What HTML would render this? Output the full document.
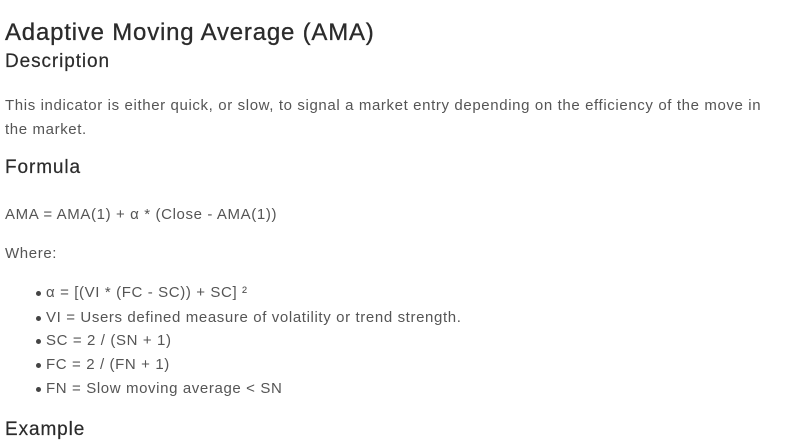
<!DOCTYPE html>
<html><head><meta charset="utf-8"><style>
body{margin:0;width:793px;height:423px;overflow:hidden;background:#fff;font-family:"Liberation Sans",sans-serif;position:relative}
.a{position:absolute;left:5px;white-space:nowrap}
.h1{font-size:24px;line-height:30px;color:#2b2b2b;letter-spacing:0.8px;-webkit-text-stroke:0.3px #2b2b2b}
.h2{font-size:19px;line-height:24px;color:#2b2b2b;letter-spacing:0.9px;-webkit-text-stroke:0.2px #2b2b2b}
.p{font-size:15px;line-height:24px;color:#555;letter-spacing:0.62px}
.li{left:46px}
.dot{position:absolute;left:36px;width:5px;height:5px;border-radius:50%;background:#444}
</style></head><body>
<div class="a h1" style="top:18px">Adaptive Moving Average (AMA)</div>
<div class="a h2" style="top:50px">Description</div>
<div class="a p" style="top:94px">This indicator is either quick, or slow, to signal a market entry depending on the efficiency of the move in</div>
<div class="a p" style="top:118px">the market.</div>
<div class="a h2" style="top:156px">Formula</div>
<div class="a p" style="top:203px">AMA = AMA(1) + α * (Close - AMA(1))</div>
<div class="a p" style="top:242px">Where:</div>
<div class="dot" style="top:291px"></div>
<div class="a p li" style="top:281px">α = [(VI * (FC - SC)) + SC] ²</div>
<div class="dot" style="top:316px"></div>
<div class="a p li" style="top:306px">VI = Users defined measure of volatility or trend strength.</div>
<div class="dot" style="top:339px"></div>
<div class="a p li" style="top:329px">SC = 2 / (SN + 1)</div>
<div class="dot" style="top:363px"></div>
<div class="a p li" style="top:353px">FC = 2 / (FN + 1)</div>
<div class="dot" style="top:387px"></div>
<div class="a p li" style="top:377px">FN = Slow moving average &lt; SN</div>
<div class="a h2" style="top:418px">Example</div>
</body></html>
